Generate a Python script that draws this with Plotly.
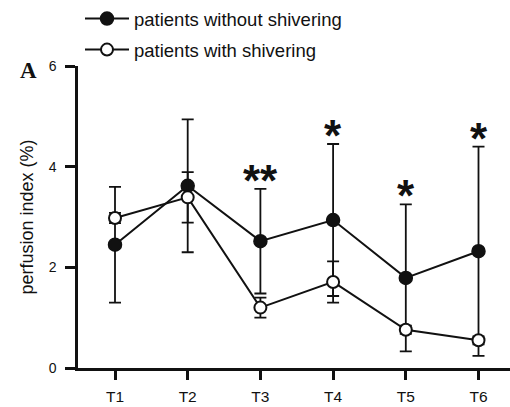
import plotly.graph_objects as go

# ---- data ----
categories = ["T1", "T2", "T3", "T4", "T5", "T6"]
no_shiver_mean = [2.45, 3.62, 2.52, 2.94, 1.79, 2.32]
no_shiver_sd = [1.15, 1.32, 1.04, 1.51, 1.46, 2.08]
shiver_mean = [2.98, 3.39, 1.20, 1.71, 0.76, 0.55]
shiver_sd = [0.10, 0.50, 0.20, 0.41, 0.08, 0.08]
significance = ["", "", "**", "*", "*", "*"]
y_ticks = [0, 2, 4, 6]

xpos = list(range(len(categories)))
BLACK = "#111111"

fig = go.Figure()

fig.add_trace(go.Scatter(
    x=xpos, y=no_shiver_mean, name="patients without shivering",
    mode="lines+markers", legendgroup="a",
    line=dict(color=BLACK, width=2),
    marker=dict(symbol="circle", size=13, color=BLACK, line=dict(color=BLACK, width=1.5)),
    error_y=dict(type="data", array=no_shiver_sd, visible=True, color=BLACK, thickness=1.8, width=6),
    cliponaxis=False,
))
fig.add_trace(go.Scatter(
    x=xpos, y=shiver_mean, name="patients with shivering",
    mode="lines+markers", legendgroup="b",
    line=dict(color=BLACK, width=2),
    marker=dict(symbol="circle", size=12, color="white", line=dict(color=BLACK, width=2)),
    error_y=dict(type="data", array=shiver_sd, visible=True, color=BLACK, thickness=1.8, width=6),
    cliponaxis=False,
))

W, H = 510, 407
L, R, T, B = 78, 0, 65, 39
pw = W - L - R
ph = H - T - B

# significance asterisks above the upper error caps
for i, s in enumerate(significance):
    if s:
        fig.add_annotation(
            x=xpos[i], y=no_shiver_mean[i] + no_shiver_sd[i], xref="x", yref="y",
            text="<b>" + s + "</b>", showarrow=False, yanchor="bottom", yshift=-18,
            font=dict(family="Liberation Sans", size=44, color=BLACK),
        )

# panel letter
fig.add_annotation(
    x=(28 - L) / pw, y=(H - B - 70) / ph, xref="paper", yref="paper",
    xanchor="center", yanchor="middle",
    text="<b>A</b>", showarrow=False,
    font=dict(family="Liberation Serif", size=23, color=BLACK),
)

unit = 72.7
x0 = -(115 - L) / unit
x1 = x0 + pw / unit

fig.update_layout(
    width=W, height=H,
    margin=dict(l=L, r=R, t=T, b=B),
    plot_bgcolor="white", paper_bgcolor="white",
    font=dict(family="Liberation Sans", color=BLACK),
    showlegend=True,
    legend=dict(
        x=(80 - L) / pw, y=1 + (T + 1) / ph, xanchor="left", yanchor="top",
        font=dict(size=18.5, color=BLACK), traceorder="grouped", tracegroupgap=4,
        itemwidth=44, bgcolor="rgba(0,0,0,0)",
    ),
    xaxis=dict(
        range=[x0, x1], tickvals=xpos, ticktext=categories, automargin=False,
        showgrid=False, zeroline=False, showline=True, linecolor=BLACK, linewidth=2.5,
        ticks="outside", ticklen=9, tickwidth=2.5, tickcolor=BLACK,
        tickfont=dict(size=15.5, color=BLACK), ticklabelstandoff=4,
    ),
    yaxis=dict(
        range=[0, 6], tickvals=y_ticks, automargin=False,
        showgrid=False, zeroline=False, showline=True, linecolor=BLACK, linewidth=2.5,
        ticks="outside", ticklen=10, tickwidth=2.5, tickcolor=BLACK,
        tickfont=dict(size=14, color=BLACK), ticklabelstandoff=6,
        title=dict(text="perfusion index (%)", font=dict(size=18, color=BLACK), standoff=11),
    ),
)

fig.write_html("out.html", config={"displayModeBar": False},
               post_script="document.body.style.margin='0';")
